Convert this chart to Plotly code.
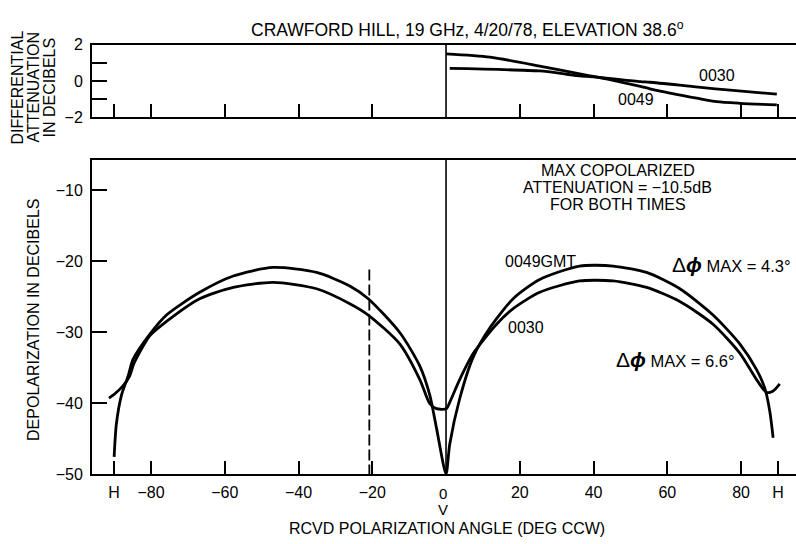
import plotly.graph_objects as go

# ---------------- data ----------------
# Top panel: differential attenuation (dB) vs received polarization angle (deg)
angle_0049_top = [0, 11.9, 25.4, 39.0, 41.7, 52.7, 55.3, 68.4, 73.4, 79.7, 89.7]
diff_0049_top = [1.50, 1.32, 0.83, 0.29, 0.20, -0.29, -0.42, -0.95, -1.13, -1.22, -1.31]

angle_0030_top = [1.0, 25.4, 32.7, 36.3, 41.7, 52.7, 55.3, 68.4, 77.8, 89.7]
diff_0030_top = [0.70, 0.56, 0.38, 0.29, 0.20, -0.03, -0.06, -0.33, -0.51, -0.72]

# Bottom panel: depolarization (dB)
angle_0049 = [-90.0, -89.4, -88.0, -86.2, -84.9, -80.3, -75.8, -66.8, -57.7, -46.9,
              -35.1, -26.1, -21.1, -12.5, -7.1, -4.4, -2.6, 0.0,
              1.0, 3.7, 7.4, 11.9, 18.2, 25.4, 36.2, 45.3, 54.4, 63.4, 72.4,
              79.7, 84.2, 86.5, 87.8, 88.7]
depol_0049 = [-47.6, -43.0, -38.9, -36.2, -33.9, -30.3, -27.6, -24.4, -22.1, -20.9,
              -21.6, -23.5, -25.3, -30.1, -34.8, -38.9, -43.5, -50.0,
              -45.8, -39.4, -33.5, -29.4, -25.3, -22.6, -20.7, -20.7, -21.6, -23.9, -27.6,
              -31.7, -35.3, -38.0, -41.2, -44.9]

angle_0030 = [-91.4, -89.8, -87.6, -85.8, -84.6, -80.3, -75.8, -66.8, -57.7, -46.9,
              -35.1, -26.1, -21.1, -12.5, -7.1, -4.4, -2.6, 0.1,
              1.0, 3.7, 7.4, 13.7, 18.2, 25.4, 36.2, 45.3, 54.4, 63.4, 72.4,
              79.7, 84.2, 86.9, 88.7, 90.5]
depol_0030 = [-39.3, -38.7, -37.6, -36.2, -34.4, -30.5, -28.5, -25.3, -23.7, -23.0,
              -23.9, -26.0, -27.6, -31.7, -36.7, -40.1, -40.8, -40.8,
              -39.9, -36.7, -33.0, -28.9, -26.7, -24.4, -22.8, -22.8, -23.7, -25.7, -28.9,
              -33.0, -36.7, -38.5, -38.3, -37.3]

x_tick_vals = [-90, -80, -60, -40, -20, 20, 40, 60, 80, 90]
x_tick_text = ["H", "\u221280", "\u221260", "\u221240", "\u221220", "20", "40", "60", "80", "H"]
top_y_vals = [-2, 0, 2]
top_y_text = ["\u22122", "0", "2"]
top_y_minor = [-1, 1]
bot_y_vals = [-50, -40, -30, -20, -10]
bot_y_text = ["\u221250", "\u221240", "\u221230", "\u221220", "\u221210"]

# ---------------- layout helpers ----------------
W, H = 796, 544
FONT = "Liberation Sans, Arial, Helvetica, sans-serif"
X_RANGE = [-96.0, 94.9]


def fx(p):
    return p / W


def fy(p):
    return 1 - p / H


fig = go.Figure()

line_style = dict(color="black", width=2.8, shape="spline", smoothing=0.7)

fig.add_trace(go.Scatter(x=angle_0049_top, y=diff_0049_top, mode="lines",
                         line=line_style, xaxis="x", yaxis="y", showlegend=False))
fig.add_trace(go.Scatter(x=angle_0030_top, y=diff_0030_top, mode="lines",
                         line=line_style, xaxis="x", yaxis="y", showlegend=False))
fig.add_trace(go.Scatter(x=angle_0049, y=depol_0049, mode="lines",
                         line=line_style, xaxis="x2", yaxis="y2", showlegend=False))
fig.add_trace(go.Scatter(x=angle_0030, y=depol_0030, mode="lines",
                         line=line_style, xaxis="x2", yaxis="y2", showlegend=False))

axis_common = dict(showline=True, linecolor="black", linewidth=2, showgrid=False,
                   zeroline=False, ticks="inside", tickcolor="black", tickwidth=2)

fig.update_layout(
    width=W, height=H, autosize=False,
    margin=dict(l=0, r=0, t=0, b=0),
    paper_bgcolor="white", plot_bgcolor="white",
    font=dict(family=FONT, color="black", size=15),
    xaxis=dict(domain=[fx(92), 1], range=X_RANGE, anchor="y", mirror=True,
               tickvals=x_tick_vals, ticklen=13, showticklabels=False, **axis_common),
    yaxis=dict(domain=[fy(113), fy(38)], range=[-2, 2], anchor="x",
               tickvals=top_y_vals, ticktext=top_y_text, ticklen=15,
               minor=dict(tickvals=top_y_minor, ticks="inside", ticklen=15,
                          tickwidth=2, tickcolor="black", showgrid=False),
               tickfont=dict(size=16), ticklabelstandoff=4, **axis_common),
    xaxis2=dict(domain=[fx(92), 1], range=X_RANGE, anchor="y2", mirror=True,
                tickvals=x_tick_vals, ticktext=x_tick_text, ticklen=13,
                tickfont=dict(size=16), ticklabelstandoff=3, **axis_common),
    yaxis2=dict(domain=[fy(481), fy(157)], range=[-50, -5.77], anchor="x2",
                tickvals=bot_y_vals, ticktext=bot_y_text, ticklen=15,
                tickfont=dict(size=16), ticklabelstandoff=4, **axis_common),
)

# vertical reference lines at 0 deg and dashed at -20 deg
fig.add_shape(type="line", xref="x", yref="y domain", x0=0, x1=0, y0=0, y1=1,
              line=dict(color="black", width=1.6))
fig.add_shape(type="line", xref="x2", yref="y2 domain", x0=0, x1=0, y0=0, y1=1,
              line=dict(color="black", width=1.6))
fig.add_shape(type="line", xref="x2", yref="y2", x0=-20.8, x1=-20.8, y0=-21.2, y1=-50,
              line=dict(color="black", width=1.8, dash="11px,4px"))

ann = []


def text(x, y, s, size=15, xref="paper", yref="paper", angle=0, xanchor="center"):
    ann.append(dict(x=x, y=y, xref=xref, yref=yref, text=s, showarrow=False,
                    textangle=angle, xanchor=xanchor, yanchor="middle",
                    font=dict(size=size, family=FONT, color="black")))


# title
text(fx(467), fy(22), "CRAWFORD HILL, 19 GHz, 4/20/78, ELEVATION 38.6<sup>o</sup>", size=17.5)
# y-axis titles
text(fx(17), fy(82), "DIFFERENTIAL", size=16, angle=-90)
text(fx(33), fy(82), "ATTENUATION", size=16, angle=-90)
text(fx(49), fy(82), "IN DECIBELS", size=16, angle=-90)
text(fx(34), fy(322), "DEPOLARIZATION IN DECIBELS", size=16, angle=-90)
# x-axis title and 0 / V label
text(fx(447), fy(537), "RCVD POLARIZATION ANGLE (DEG CCW)", size=16)
text(-0.8, fy(501), "0", size=15, xref="x2")
text(-0.8, fy(518), "V", size=15, xref="x2")

# top panel curve labels
text(73.6, 0.29, "0030", size=16, xref="x", yref="y")
text(51.6, -1.0, "0049", size=16, xref="x", yref="y")

# bottom panel labels
text(46.6, -7.27, "MAX COPOLARIZED", size=16, xref="x2", yref="y2")
text(46.6, -9.59, "ATTENUATION = \u221210.5dB", size=16, xref="x2", yref="y2")
text(46.6, -12.05, "FOR BOTH TIMES", size=16, xref="x2", yref="y2")
text(25.7, -20.1, "0049GMT", size=16, xref="x2", yref="y2")
text(21.6, -29.4, "0030", size=16, xref="x2", yref="y2")
text(77.5, -20.5,
     "<span style='font-size:21px'>\u0394<b><i>\u03d5</i></b></span> MAX = 4.3\u00b0",
     size=16.5, xref="x2", yref="y2")
text(62.1, -33.9,
     "<span style='font-size:21px'>\u0394<b><i>\u03d5</i></b></span> MAX = 6.6\u00b0",
     size=16.5, xref="x2", yref="y2")

fig.update_layout(annotations=ann)

fig.write_html("out.html")
